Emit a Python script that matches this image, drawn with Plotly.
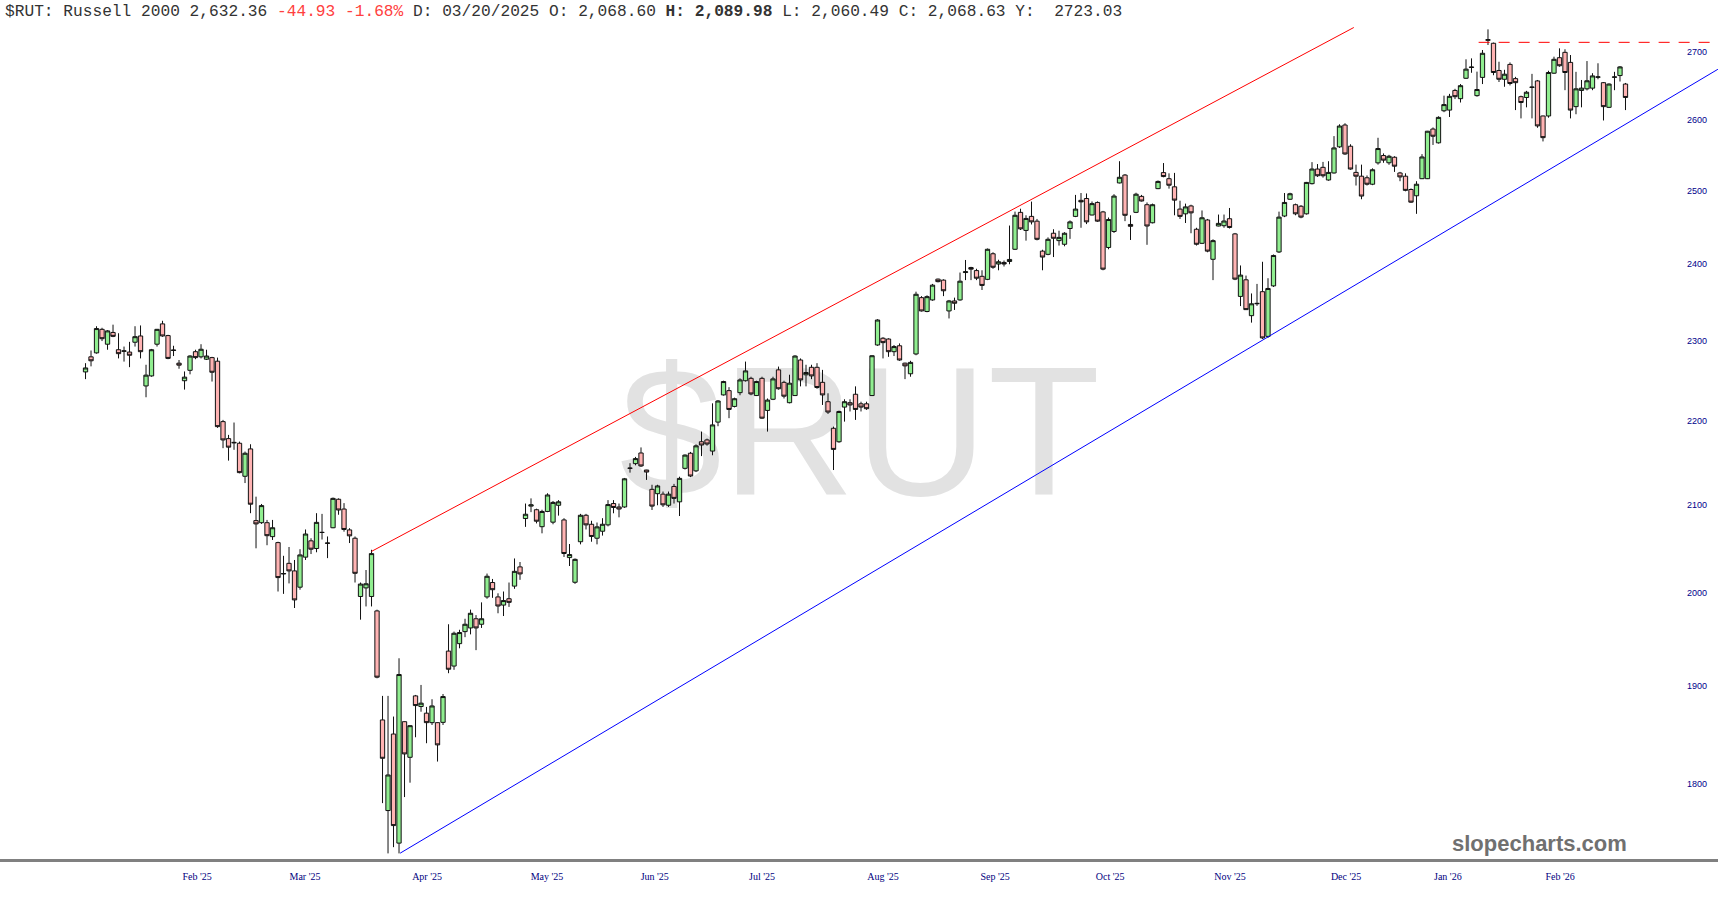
import plotly.graph_objects as go

# ---------------- data (Russell 2000 daily candles, trading-day index) ----------------
open_ = [
 2261, 2280, 2285, 2315, 2296, 2311, 2289, 2287, 2286, 2298.5,
 2306.5, 2243.5, 2256, 2296, 2322, 2307, 2288, 2272, 2250, 2263,
 2286.5, 2280, 2277, 2279, 2274.5, 2199.6, 2179, 2174.5, 2173.4, 2134,
 2166.6, 2082.2, 2079.8, 2079.8, 2063.8, 2057, 2021.6, 2033.5, 2025, 2006.8,
 2040.5, 2059, 2050.3, 2068.60, 2056.5, 2074, 2107, 2095.6, 2071.5, 2062,
 1996.5, 2006, 1996.5, 1980.6, 1864.5, 1773.2, 1850, 1741.5, 1862.7, 1826.3,
 1889.5, 1878.4, 1871.5, 1861.7, 1861.7, 1862, 1937, 1921, 1945, 1958,
 1962, 1972, 1966, 1996, 2012, 1996, 1987, 1994, 2008, 2029.5,
 2084.6, 2099, 2094.8, 2075.2, 2092.8, 2080.4, 2100, 2083, 2040, 2012.3,
 2058, 2088.4, 2078, 2062, 2070, 2077.3, 2102, 2098, 2098, 2143.4,
 2149, 2161.7, 2141.4, 2118.6, 2113.5, 2113, 2100, 2122, 2104, 2143.4,
 2161.4, 2140.4, 2175.2, 2177.4, 2164, 2199, 2232.4, 2237.7, 2218.2, 2235.2,
 2250, 2253, 2231.6, 2253, 2213.3, 2227, 2263.6, 2248, 2222.8, 2231.6,
 2276, 2257.4, 2266.8, 2266.8, 2248, 2224, 2191.5, 2175.2, 2217.4, 2222.8,
 2233.2, 2221.4, 2221.4, 2231.6, 2295, 2303.6, 2302.6, 2286.5, 2294, 2272,
 2258.7, 2283.6, 2356, 2338, 2353, 2380.3, 2379, 2338.7, 2351.7, 2353,
 2389, 2395.6, 2391.6, 2384, 2380, 2414, 2400.3, 2402.4, 2403.7, 2420,
 2470, 2445.4, 2464.5, 2458, 2417.5, 2413.2, 2441.6, 2431.6, 2426.7, 2448,
 2464.5, 2486.5, 2489, 2466.4, 2483.6, 2470.6, 2422.4, 2444, 2510.6, 2521.6,
 2453.5, 2470, 2492, 2480.5, 2455.8, 2502.7, 2525, 2516.5, 2505.2, 2474.5,
 2468, 2478.8, 2447, 2428, 2459.6, 2406.6, 2451.4, 2451.8, 2461.3, 2440.7,
 2357.6, 2379.4, 2332.6, 2348, 2363.8, 2306, 2371.4, 2416.4, 2465, 2488,
 2480.5, 2478.4, 2468, 2509.6, 2530, 2532.4, 2514.7, 2524.5, 2561.3, 2592.5,
 2562.2, 2525.3, 2520, 2517.8, 2508.8, 2538.7, 2549, 2538.8, 2546.6, 2524.5,
 2520, 2501.5, 2492.8, 2516.5, 2516.5, 2586.7, 2567, 2613, 2614, 2642.6,
 2630.6, 2660.5, 2676.5, 2635, 2661.8, 2717, 2712.6, 2672, 2659, 2681,
 2660, 2633.5, 2632.3, 2647, 2656.6, 2605.5, 2605.5, 2668, 2691, 2699,
 2684, 2619, 2642.6, 2645, 2646, 2662, 2654, 2618, 2662, 2664.5,
 2652,
]
high = [
 2272, 2288, 2319, 2317, 2314, 2321, 2310, 2293, 2299, 2319,
 2320, 2270, 2290, 2315.5, 2326, 2308, 2294, 2276, 2261.6, 2282,
 2289, 2296, 2289, 2280, 2279, 2201.7, 2183.5, 2198.5, 2175.4, 2163.4,
 2172.2, 2110, 2101.5, 2083, 2083, 2058, 2042, 2052, 2037.3, 2049.5,
 2072, 2062, 2090.8, 2089.98, 2064, 2109, 2108, 2102.5, 2073.5, 2064,
 2012, 2026, 2048.8, 1982, 1889.5, 1889.5, 1868, 1929.3, 1863, 1859,
 1890.5, 1901, 1878, 1886, 1862, 1891.5, 1966, 1958, 1960, 1972,
 1982, 1976, 1990, 2022, 2016, 2000, 2002, 2012, 2039, 2035,
 2102, 2108, 2096, 2094.8, 2114, 2105, 2106, 2085, 2055.4, 2039,
 2090, 2090, 2082, 2080, 2085, 2106, 2106, 2102, 2132, 2149.5,
 2157, 2168.4, 2141.6, 2124, 2124, 2116, 2116, 2125, 2133.5, 2160,
 2163, 2172, 2187.5, 2179, 2222, 2226, 2250, 2242, 2229, 2253,
 2274, 2255, 2250, 2255, 2228, 2255, 2267.7, 2250, 2257.5, 2282,
 2278, 2270, 2270, 2272, 2263.6, 2234.4, 2193.5, 2213, 2227, 2227,
 2243, 2224, 2224, 2282, 2328, 2305, 2303.5, 2295, 2297, 2272.6,
 2275, 2363.8, 2358, 2359, 2374, 2381, 2380, 2353, 2356, 2389,
 2405.7, 2396.6, 2394, 2392, 2421, 2416, 2406, 2405, 2452, 2471,
 2475, 2466, 2484.8, 2461, 2419.4, 2436, 2447, 2445, 2443, 2459,
 2494, 2496.6, 2496, 2485, 2485, 2472, 2463, 2495, 2541, 2523,
 2466, 2497, 2494, 2483.6, 2482, 2514, 2538.4, 2524, 2524.6, 2486,
 2482, 2480.5, 2449, 2472.6, 2461, 2433.4, 2467, 2467, 2476, 2442,
 2398.4, 2385, 2361.5, 2374, 2403.3, 2381.5, 2413, 2471, 2496.6, 2497,
 2482, 2480, 2512, 2539.7, 2537, 2540, 2541, 2576.6, 2593.5, 2595,
 2565, 2536.2, 2536.2, 2521, 2531, 2574.2, 2552, 2550, 2548, 2526,
 2524, 2503, 2513, 2551, 2584, 2589, 2605, 2635, 2637.6, 2645,
 2652, 2688.6, 2690, 2670.3, 2702.5, 2733.6, 2713.6, 2685, 2673, 2684,
 2662.6, 2635, 2642, 2667, 2658, 2606, 2671.6, 2692.5, 2705, 2703.6,
 2695, 2670, 2658, 2686, 2668, 2682.7, 2655, 2653, 2670, 2678.6,
 2653.6,
]
low = [
 2252, 2268, 2284, 2300, 2289, 2305, 2278, 2274, 2267, 2293,
 2278, 2229.5, 2255, 2293, 2305.5, 2277, 2281, 2265, 2239, 2258,
 2277, 2278, 2276, 2249, 2192, 2167.5, 2152.6, 2165.5, 2137.5, 2126,
 2090.8, 2050.5, 2078.4, 2054, 2060, 2002, 1999.4, 2011, 1983.8, 2004,
 2037.3, 2044, 2046, 2060.49, 2039.4, 2073.5, 2089, 2069.5, 2056.5, 2012,
 1971, 1985.5, 1985.5, 1908, 1780.5, 1731.6, 1737.6, 1731.6, 1786.5, 1800.8,
 1846.7, 1873, 1840.6, 1859.3, 1822, 1859.3, 1913.4, 1917, 1940, 1952,
 1955, 1938, 1962, 1994, 1995, 1978, 1975, 1985, 2005, 2015,
 2075, 2092, 2079, 2067.6, 2092, 2078, 2088, 2040.7, 2030.5, 2010.5,
 2055, 2072, 2058, 2055, 2065, 2075.6, 2090.7, 2086, 2097, 2138.3,
 2147, 2145, 2129.7, 2094.5, 2100, 2098, 2098, 2102, 2087.5, 2142,
 2133, 2139, 2158, 2170.5, 2159, 2194, 2231.6, 2203.8, 2217, 2232,
 2249, 2232, 2231, 2203, 2187.5, 2226, 2239, 2228, 2222, 2231,
 2243, 2243, 2252, 2240, 2220, 2209, 2141.4, 2174, 2199.6, 2212,
 2201.7, 2212, 2214, 2231, 2294, 2278, 2280, 2281, 2275, 2252,
 2255, 2282, 2338, 2337, 2352, 2376, 2358, 2329, 2340, 2352,
 2379, 2379, 2379, 2366, 2379, 2394, 2392, 2397, 2400, 2419,
 2446, 2431.6, 2453.5, 2432, 2392, 2412, 2409.6, 2425, 2424, 2434,
 2463.5, 2449, 2454, 2466, 2457, 2392, 2420, 2442, 2510, 2458,
 2432.5, 2469, 2485, 2426, 2455, 2502, 2518.5, 2502.7, 2466, 2461,
 2455.5, 2441.6, 2425, 2427, 2416, 2379, 2451, 2449, 2448, 2379,
 2345, 2340, 2323.6, 2345.3, 2302.7, 2304, 2370, 2415, 2463.5, 2487,
 2466, 2462, 2467, 2508.5, 2519, 2518, 2513.7, 2523.7, 2559.8, 2550,
 2529, 2507, 2488, 2507, 2507.5, 2536.2, 2538.8, 2536, 2526, 2513,
 2499, 2483, 2468, 2516, 2516, 2564, 2566, 2611, 2604, 2630,
 2625, 2659.5, 2668.6, 2633.5, 2652, 2710, 2665, 2655, 2648, 2650,
 2614, 2602, 2618, 2602, 2588.5, 2569, 2603, 2667, 2677.6, 2643,
 2602, 2608, 2618, 2642.6, 2643, 2659, 2599, 2617, 2643, 2655.7,
 2614,
]
close = [
 2266, 2275, 2316, 2303, 2313, 2306, 2284, 2287.5, 2282, 2305.6,
 2286.5, 2257, 2289, 2315, 2306.5, 2278, 2288.5, 2269.5, 2254.5, 2281,
 2279, 2289.6, 2281, 2260.6, 2193.5, 2177.4, 2168.7, 2174, 2138.3, 2161.4,
 2101.2, 2078.4, 2099.6, 2064.9, 2074, 2017.5, 2022, 2025, 1992.7, 2043,
 2066.8, 2049.5, 2080.2, 2068.63, 2056.3, 2108, 2094.5, 2072, 2064.7, 2022.3,
 2010.3, 2010.6, 2044.5, 1909.2, 1825.3, 1808.5, 1758.5, 1912, 1829.7, 1858.6,
 1879.4, 1881.9, 1861.7, 1879, 1838.9, 1888.8, 1917.6, 1956.2, 1957, 1966,
 1978, 1962, 1972, 2019, 2004, 1986, 1992, 1990, 2024.5, 2021.6,
 2089.6, 2100.5, 2081.5, 2092.8, 2112, 2103.3, 2104, 2044.6, 2043.4, 2038,
 2088.4, 2077.3, 2064, 2075, 2078, 2100.8, 2097.4, 2095.6, 2131, 2143.6,
 2155, 2146.2, 2139, 2099, 2122.6, 2100.5, 2113, 2108, 2131.5, 2159.2,
 2134.3, 2170.3, 2171.3, 2172.5, 2195.6, 2224.9, 2249, 2214.5, 2227.7, 2251,
 2262.3, 2233.6, 2249, 2203.8, 2226, 2252.3, 2240, 2230.8, 2247, 2281,
 2251, 2260.3, 2256, 2241.6, 2232.4, 2211.3, 2166, 2212, 2224, 2220,
 2214.5, 2217.4, 2215.4, 2281.4, 2327, 2298, 2286.5, 2293, 2276, 2268.6,
 2273, 2360.4, 2338.7, 2357.3, 2372.4, 2377, 2365, 2351.7, 2348.7, 2377.6,
 2390, 2393.5, 2381.5, 2372, 2420, 2396, 2403.3, 2400.3, 2406.4, 2466,
 2447.5, 2461.7, 2457, 2433.4, 2409.6, 2433.4, 2434.8, 2436, 2441.6, 2457,
 2474.5, 2484.4, 2457, 2482, 2458, 2393.5, 2460.3, 2492.4, 2518.5, 2466,
 2451, 2495, 2485.6, 2451.4, 2480.5, 2512.7, 2519.5, 2507.4, 2486.8, 2464.5,
 2477.5, 2469.3, 2426.7, 2462.6, 2417.5, 2431.6, 2455, 2458.2, 2449.4, 2380.3,
 2385.6, 2340.4, 2348, 2348.5, 2304, 2368, 2411.7, 2463.5, 2483.6, 2495.6,
 2468, 2463.5, 2511.3, 2530, 2520.6, 2520.6, 2525.3, 2559.8, 2591, 2551.2,
 2530, 2520, 2492.4, 2508.8, 2529, 2558.9, 2542.5, 2548, 2534, 2519,
 2500.3, 2484, 2508.8, 2547, 2583.6, 2576.4, 2603.5, 2622, 2634, 2633.5,
 2649.6, 2674, 2677, 2644, 2697.6, 2718, 2669, 2659, 2666.5, 2652.8,
 2654, 2625, 2640, 2647.5, 2591.2, 2574.4, 2669, 2688.6, 2679, 2669,
 2614, 2645, 2646, 2656.8, 2664, 2662.5, 2619, 2652, 2662.4, 2677.29,
 2632.36,
]
day_index = list(range(len(close)))

# month labels and their positions on the trading-day index
month_labels = ["Feb '25", "Mar '25", "Apr '25", "May '25", "Jun '25", "Jul '25", "Aug '25",
                "Sep '25", "Oct '25", "Nov '25", "Dec '25", "Jan '26", "Feb '26"]
month_pos = [20.3, 39.9, 62.1, 83.9, 103.5, 123.0, 145.0, 165.4, 186.3, 208.1, 229.2, 247.7, 268.1]

price_ticks = [1800, 1900, 2000, 2100, 2200, 2300, 2400, 2500, 2600, 2700]

# drawn trend lines (index, price)
upper_x = [52, 230.6]
upper_y = [2047, 2736.4]
lower_x = [57.2, 296.8]
lower_y = [1731.8, 2673.8]
level_x = [253.3, 296.8]
level_y = [2714, 2714]

X_RANGE = [-15.55, 296.82]
Y_RANGE = [3.2371, 3.4373]

fig = go.Figure()
fig.add_trace(go.Candlestick(
    x=day_index, open=open_, high=high, low=low, close=close,
    increasing=dict(fillcolor="#90ee90", line=dict(color="#111111", width=1)),
    decreasing=dict(fillcolor="#ffb3b3", line=dict(color="#111111", width=1)),
    whiskerwidth=0, hoverinfo="skip", showlegend=False,
))
fig.add_trace(go.Scatter(x=upper_x, y=upper_y, mode="lines",
                         line=dict(color="#ff0000", width=1), hoverinfo="skip", showlegend=False))
fig.add_trace(go.Scatter(x=lower_x, y=lower_y, mode="lines",
                         line=dict(color="#0000ff", width=1), hoverinfo="skip", showlegend=False))
fig.add_trace(go.Scatter(x=level_x, y=level_y, mode="lines",
                         line=dict(color="#ff0000", width=1, dash="11px,9px"),
                         hoverinfo="skip", showlegend=False))

# watermark behind the candles
fig.add_shape(type="rect", xref="paper", yref="paper", x0=0.35, x1=0.651, y0=0.39, y1=0.68,
              line=dict(width=0), fillcolor="rgba(0,0,0,0)", layer="below",
              label=dict(text="$RUT", textposition="middle center",
                         font=dict(family="Liberation Sans", size=184, color="#e2e2e2")))

header = ("$RUT:\u00a0Russell\u00a02000\u00a02,632.36\u00a0"
          "<span style='color:#ff4040'>-44.93\u00a0-1.68%</span>"
          "\u00a0D:\u00a003/20/2025\u00a0O:\u00a02,068.60\u00a0"
          "<b>H:\u00a02,089.98</b>"
          "\u00a0L:\u00a02,060.49\u00a0C:\u00a02,068.63\u00a0Y:\u00a0\u00a02723.03")
fig.add_annotation(text=header, xref="paper", yref="paper", x=0, y=1, xanchor="left",
                   yanchor="middle", xshift=3, yshift=15, showarrow=False,
                   font=dict(family="Liberation Mono", size=16.2, color="#333333"))
fig.add_annotation(text="<b>slopecharts.com</b>", xref="paper", yref="paper",
                   x=0.8961, y=0.0192, xanchor="center", yanchor="middle", showarrow=False,
                   font=dict(family="Liberation Sans", size=22, color="#707070"))

fig.update_layout(
    width=1718, height=900,
    margin=dict(l=0, r=0, t=27, b=41),
    paper_bgcolor="white", plot_bgcolor="white",
    showlegend=False, boxgap=0.22, boxgroupgap=0,
    xaxis=dict(range=X_RANGE, rangeslider=dict(visible=False), showgrid=False, zeroline=False,
               tickmode="array", tickvals=month_pos, ticktext=month_labels, ticks="",
               showline=True, linecolor="#808080", linewidth=3, ticklabelstandoff=6,
               tickfont=dict(family="Liberation Serif", size=10, color="#000080")),
    yaxis=dict(type="log", range=Y_RANGE, side="right", ticklabelposition="inside",
               tickmode="array", tickvals=price_ticks, ticktext=[str(v) for v in price_ticks],
               showgrid=False, zeroline=False, ticks="", showline=False, ticklabelstandoff=8,
               tickfont=dict(family="Liberation Sans", size=9, color="#00008b")),
)

fig.write_html("out.html", config={"displayModeBar": False},
               post_script="document.body.style.margin='0';")
